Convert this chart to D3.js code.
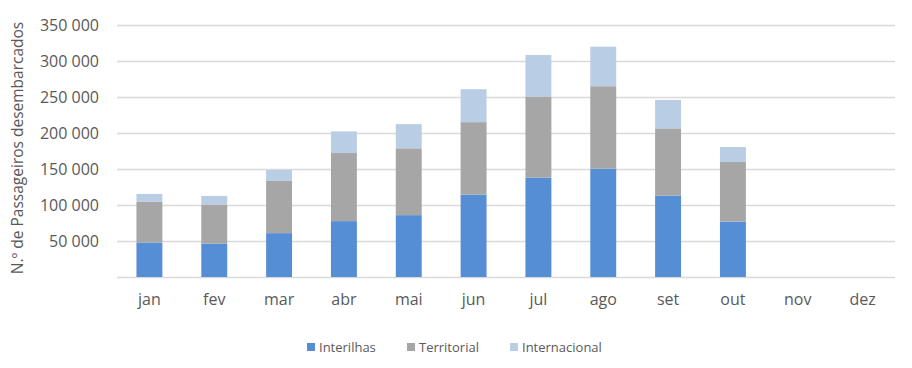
<!DOCTYPE html>
<html>
<head>
<meta charset="utf-8">
<script src="https://cdn.jsdelivr.net/npm/d3@7"></script>
<style>
  body { margin: 0; background: #fff; }
  text { font-family: "Open Sans", "Noto Sans", sans-serif; fill: #595959; }
</style>
</head>
<body>
<div id="chart"></div>
<script>
const months = ["jan", "fev", "mar", "abr", "mai", "jun", "jul", "ago", "set", "out", "nov", "dez"];
const interilhas = [47900, 46500, 60900, 77600, 85900, 114400, 138000, 150400, 113000, 77000, 0, 0];
const territorial = [56800, 54100, 72500, 94600, 92800, 100700, 112700, 114600, 93400, 82700, 0, 0];
const internacional = [10700, 12000, 15200, 30000, 33600, 45700, 57600, 54900, 39600, 20800, 0, 0];
const seriesNames = ["Interilhas", "Territorial", "Internacional"];
const colors = ["#558ed5", "#a6a6a6", "#b9cde5"];
const yTicks = [50000, 100000, 150000, 200000, 250000, 300000, 350000];

const W = 912, H = 368;
const margin = { top: 25, right: 17, bottom: 91, left: 117 };
const width = W - margin.left - margin.right;
const height = H - margin.top - margin.bottom;

const rows = months.map((m, i) => ({
  month: m,
  Interilhas: interilhas[i],
  Territorial: territorial[i],
  Internacional: internacional[i]
}));
const stacked = d3.stack().keys(seriesNames)(rows);

const svg = d3.select("#chart").append("svg")
  .attr("width", W)
  .attr("height", H);

const g = svg.append("g")
  .attr("transform", `translate(${margin.left},${margin.top})`);

const x = d3.scaleBand().domain(months).range([0, width]).paddingInner(0.6).paddingOuter(0.3);
const y = d3.scaleLinear().domain([0, 350000]).range([height, 0]);

// grid lines
g.append("g")
  .selectAll("line")
  .data([0].concat(yTicks))
  .enter()
  .append("line")
  .attr("x1", 0)
  .attr("x2", width)
  .attr("y1", d => Math.round(y(d)) + 0.5)
  .attr("y2", d => Math.round(y(d)) + 0.5)
  .attr("stroke", "#d9d9d9")
  .attr("stroke-width", 1.3);

// y axis labels
const fmt = d => d3.format(",")(d).replace(/,/g, " ");
const yAxis = g.append("g")
  .call(d3.axisLeft(y).tickValues(yTicks).tickFormat(fmt).tickSize(0).tickPadding(18));
yAxis.select(".domain").remove();
yAxis.selectAll("text")
  .style("font-size", "16px")
  .style("fill", "#595959")
  .style("font-family", "'Open Sans', 'Noto Sans', sans-serif");

// x axis labels
const xAxis = g.append("g")
  .attr("transform", `translate(0,${height})`)
  .call(d3.axisBottom(x).tickSize(0).tickPadding(17));
xAxis.select(".domain").remove();
xAxis.selectAll("text")
  .style("font-size", "16px")
  .style("fill", "#595959")
  .style("font-family", "'Open Sans', 'Noto Sans', sans-serif");

// bars
g.selectAll(".serie")
  .data(stacked)
  .enter()
  .append("g")
  .attr("fill", (d, i) => colors[i])
  .selectAll("rect")
  .data(d => d)
  .enter()
  .append("rect")
  .attr("x", d => x(d.data.month))
  .attr("width", x.bandwidth())
  .attr("y", d => y(d[1]))
  .attr("height", d => y(d[0]) - y(d[1]));

// y title
svg.append("text")
  .attr("transform", `translate(23,${margin.top + height / 2 - 3}) rotate(-90)`)
  .attr("text-anchor", "middle")
  .style("font-size", "15.5px")
  .text("N.º de Passageiros desembarcados");

// legend
const legendX = [307, 407, 510];
const legend = svg.append("g");
seriesNames.forEach((name, i) => {
  legend.append("rect")
    .attr("x", legendX[i])
    .attr("y", 343)
    .attr("width", 8)
    .attr("height", 8)
    .attr("fill", colors[i]);
  legend.append("text")
    .attr("x", legendX[i] + 12)
    .attr("y", 352)
    .style("font-size", "13px")
    .text(name);
});
</script>
</body>
</html>
